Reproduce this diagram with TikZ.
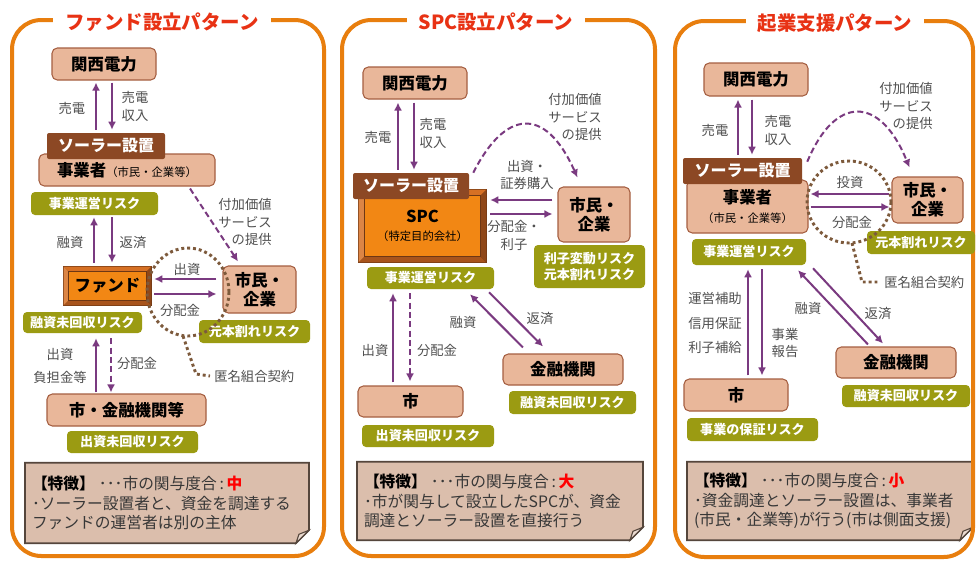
\documentclass[tikz,border=0pt]{standalone}
\usepackage{fontspec}
\setmainfont{Noto Sans CJK JP}
\usetikzlibrary{calc,arrows.meta,backgrounds}
\definecolor{borange}{RGB}{232,126,14}
\definecolor{tred}{RGB}{232,50,20}
\definecolor{salmon}{RGB}{233,183,154}
\definecolor{salmonline}{RGB}{165,95,65}
\definecolor{tabbrown}{RGB}{140,72,36}
\definecolor{olive}{RGB}{155,155,18}
\definecolor{apurple}{RGB}{122,58,128}
\definecolor{dotbrown}{RGB}{125,90,60}
\definecolor{ofill}{RGB}{242,135,20}
\definecolor{obevtop}{RGB}{214,112,36}
\definecolor{obevbot}{RGB}{168,84,28}
\definecolor{oedge}{RGB}{110,55,20}
\definecolor{notefill}{RGB}{219,190,172}
\definecolor{noteline}{RGB}{85,70,60}
\definecolor{labgray}{RGB}{80,80,80}
\definecolor{notetext}{RGB}{55,55,55}
\definecolor{hotred}{RGB}{255,0,0}
\newcommand\fntitle{\fontsize{14.6}{16}\selectfont\bfseries}
\newcommand\fnbox{\fontsize{12.3}{14.5}\selectfont\bfseries}
\newcommand\fntab{\fontsize{12}{14}\selectfont\bfseries}
\newcommand\fnrisk{\fontsize{9.8}{12.5}\selectfont\bfseries}
\newcommand\fnlab{\fontsize{10}{13}\selectfont}
\newcommand\fnnote{\fontsize{11.8}{14.5}\selectfont}
\newcommand\fnsmall{\fontsize{8.5}{10}\selectfont\mdseries}
\newcommand\obevel[2]{%
  \fill[oedge] (#1.north west) rectangle (#1.south east);
  \fill[obevtop] ($(#1.north west)+(1,1)$) -- ($(#1.north east)+(-1,1)$) -- ($(#1.north east)+(-#2,#2)$) -- ($(#1.north west)+(#2,#2)$) -- cycle;
  \fill[obevtop!85!white] ($(#1.north west)+(1,1)$) -- ($(#1.south west)+(1,-1)$) -- ($(#1.south west)+(#2,-#2)$) -- ($(#1.north west)+(#2,#2)$) -- cycle;
  \fill[obevbot] ($(#1.south west)+(1,-1)$) -- ($(#1.south east)+(-1,-1)$) -- ($(#1.south east)+(-#2,-#2)$) -- ($(#1.south west)+(#2,-#2)$) -- cycle;
  \fill[obevbot!85!black] ($(#1.north east)+(-1,1)$) -- ($(#1.south east)+(-1,-1)$) -- ($(#1.south east)+(-#2,-#2)$) -- ($(#1.north east)+(-#2,#2)$) -- cycle;
  \filldraw[fill=ofill, draw=oedge, line width=0.6pt] ($(#1.north west)+(#2,#2)$) rectangle ($(#1.south east)+(-#2,-#2)$);
}
\newcommand\notebg[1]{%
  \filldraw[fill=notefill, draw=noteline, line width=1.3pt] (#1.north west) -- (#1.north east) -- ($(#1.south east)+(0,-13)$) -- ($(#1.south east)+(-13,0)$) -- (#1.south west) -- cycle;
  \filldraw[fill=notefill!55!white, draw=noteline, line width=0.8pt] ($(#1.south east)+(0,-13)$) .. controls ($(#1.south east)+(-6,-7)$) .. ($(#1.south east)+(-13,0)$) -- ($(#1.south east)+(-10,-9)$) -- cycle;
}
\tikzset{
  px/.style 2 args={minimum width=#1*0.75pt, minimum height=#2*0.75pt},
  panel/.style={draw=borange, line width=3pt, rounded corners=22pt},
  ptitle/.style={fill=white, text=tred, font=\fntitle, inner xsep=9pt, inner ysep=2pt},
  sbox/.style={draw=salmonline, fill=salmon, line width=0.8pt, rounded corners=4pt, inner sep=0pt, font=\fnbox, align=center},
  tabbox/.style={fill=tabbrown, text=white, font=\fntab, inner sep=0pt, rounded corners=1.5pt},
  risk/.style={fill=olive, text=white, font=\fnrisk, inner sep=0pt, rounded corners=3pt, align=center},
  obox/.style={inner sep=0pt, font=\fnbox, align=center},
  lab/.style={text=labgray, font=\fnlab, inner sep=0pt, align=center},
  arr/.style={draw=apurple, line width=1.5pt, -{Latex[length=6pt,width=6pt]}},
  darr/.style={arr, dash pattern=on 4.5pt off 2.5pt},
  dots/.style={draw=dotbrown, line width=2.2pt, dash pattern=on 2.2pt off 2.2pt},
  notebox/.style={text=notetext, font=\fnnote, inner xsep=5pt, inner ysep=0pt, align=left},
}
\begin{document}
\begin{tikzpicture}[x=0.75pt,y=-0.75pt]
\begin{scope}[on background layer]
  \fill[white] (0,0) rectangle (976,561);
\end{scope}
\useasboundingbox (0,0) rectangle (976,561);

% ================= Panel 1 =================
\draw[panel] (12,20) rectangle (324,556);
\node[ptitle] (ti1) at (162,22) {ファンド設立パターン};
\node[sbox, px={104}{32}] (k1) at (104,64) {関西電力};
\node[sbox, px={176}{32}] (j1) at (127,170) {事業者{\fnsmall（市民・企業等）}};
\node[tabbox, px={118}{26}] (tab1) at (106,146) {ソーラー設置};
\node[risk, px={127}{23}] (r1a) at (94.5,203.5) {事業運営リスク};
\node[obox, px={89}{40}] (f1) at (107.5,286) {ファンド};
\begin{scope}[on background layer]\obevel{f1}{6}\end{scope}
\node[sbox, px={73}{47}] (c1) at (259.5,289.5) {市民・\\企業};
\node[risk, px={111}{23}] (r1b) at (254.5,331.5) {元本割れリスク};
\node[risk, px={119}{21}] (r1c) at (82.5,322.5) {融資未回収リスク};
\node[sbox, px={159}{32}] (m1) at (126.5,410) {市・金融機関等};
\node[risk, px={131}{22}] (r1d) at (132.5,442) {出資未回収リスク};
\node[notebox, px={280}{80}, text width=270*0.75pt] (t1) at (167,503)
  {{\bfseries\color{black}【特徴】}\hspace{3pt}･･･市の関与度合\,:\,{\bfseries\color{hotred}中}\\･ソーラー設置者と、資金を調達する\\ファンドの運営者は別の主体};
\begin{scope}[on background layer]\notebg{t1}\end{scope}

\draw[arr] ($(tab1.north)+(-10,-3)$) -- ($(k1.south)+(-8,2)$);
\draw[arr] ($(k1.south)+(8,2)$) -- ($(tab1.north)+(6,-3)$);
\draw[arr] ($(f1.north)+(-13.5,-3)$) -- ($(r1a.south)+(-0.5,2)$);
\draw[arr] ($(r1a.south)+(17.5,2)$) -- ($(f1.north)+(4.5,-3)$);
\draw[arr] ($(c1.west)+(-6,-10.5)$) -- ($(f1.east)+(2,-7)$);
\draw[arr] ($(f1.east)+(2,8)$) -- ($(c1.west)+(-6,4.5)$);
\draw[arr] ($(m1.north)+(-30.5,-1)$) -- ($(r1c.south)+(13.5,5)$);
\draw[darr] ($(r1c.south)+(28.5,5)$) -- ($(m1.north)+(-15.5,-1)$);
\draw[darr] ($(j1.south)+(63,2)$) -- ($(c1.north)+(-21.5,-4)$);

\node[lab] (l1a) at (72,108) {売電};
\node[lab] (l1b) at (135,106.5) {売電\\収入};
\node[lab] (l1c) at (70,242) {融資};
\node[lab] (l1d) at (133,242) {返済};
\node[lab] (l1e) at (187,269) {出資};
\node[lab] (l1f) at (180,310) {分配金};
\node[lab, anchor=east, align=right] (l1g) at (272,222) {付加価値\\サービス\\の提供};
\node[lab] (l1h) at (60,366) {出資\\[4pt]負担金等};
\node[lab] (l1i) at (137,363) {分配金};
\node[lab, anchor=west] (l1j) at (214,376) {匿名組合契約};
\draw[dots] (188,292) ellipse [x radius=41, y radius=44];
\coordinate (e1b) at (183,336);
\draw[dots] (e1b) -- (196,374) -- ($(l1j.west)+(-4,0)$);

% ================= Panel 2 =================
\draw[panel] (342,20) rectangle (655,556);
\node[ptitle] (ti2) at (496,22) {SPC設立パターン};
\node[sbox, px={104}{32}] (k2) at (415,83) {関西電力};
\node[obox, px={129}{74}] (spc) at (422.5,226) {SPC\\[-1pt]{\fnsmall（特定目的会社）}};
\begin{scope}[on background layer]\obevel{spc}{7}\end{scope}
\node[tabbox, px={116}{26}] (tab2) at (411,186) {ソーラー設置};
\node[sbox, px={72}{55}] (c2) at (594,214.5) {市民・\\企業};
\node[risk, px={111}{43}] (r2a) at (589.5,266.5) {利子変動リスク\\元本割れリスク};
\node[risk, px={127}{22}] (r2b) at (430.5,278) {事業運営リスク};
\node[sbox, px={120}{31}] (b2) at (563,369.5) {金融機関};
\node[risk, px={127}{23}] (r2c) at (572.5,402.5) {融資未回収リスク};
\node[sbox, px={105}{31}] (s2) at (410.5,401.5) {市};
\node[risk, px={132}{22}] (r2d) at (428,436) {出資未回収リスク};
\node[notebox, px={282}{78}, text width=272*0.75pt] (t2) at (500,501)
  {{\bfseries\color{black}【特徴】}\hspace{3pt}･･･市の関与度合\,:\,{\bfseries\color{hotred}大}\\･市が関与して設立したSPCが、資金\\調達とソーラー設置を直接行う};
\begin{scope}[on background layer]\notebg{t2}\end{scope}

\draw[arr] ($(tab2.north)+(-13,-3)$) -- ($(k2.south)+(-17,3)$);
\draw[arr] ($(k2.south)+(-1,3)$) -- ($(tab2.north)+(3,-3)$);
\draw[arr] ($(c2.west)+(-5,-14.5)$) -- ($(spc.east)+(3,-26)$);
\draw[arr] ($(spc.east)+(3,-12)$) -- ($(c2.west)+(-5,-0.5)$);
\draw[darr] ($(tab2.north east)+(4,0)$) .. controls (505,110) and (545,105) .. ($(c2.north west)+(20,-9)$);
\draw[arr] ($(s2.north)+(-17.5,-3)$) -- ($(r2b.south)+(-37.5,4)$);
\draw[darr] ($(r2b.south)+(-20.5,4)$) -- ($(s2.north)+(-0.5,-4)$);
\draw[arr] ($(b2.north)+(-40,-6)$) -- ($(r2b.south)+(39.5,5)$);
\draw[arr] ($(r2b.south)+(58.5,3)$) -- ($(b2.north)+(-20,-7)$);

\node[lab] (l2a) at (378,137) {売電};
\node[lab] (l2b) at (433,133.5) {売電\\収入};
\node[lab] (l2c) at (527,175) {出資・\\証券購入};
\node[lab] (l2d) at (514,235.5) {分配金・\\利子};
\node[lab, anchor=east, align=right] (l2e) at (602,117) {付加価値\\サービス\\の提供};
\node[lab] (l2f) at (463,322) {融資};
\node[lab] (l2g) at (540,318) {返済};
\node[lab] (l2h) at (375,350) {出資};
\node[lab] (l2i) at (437,350) {分配金};

% ================= Panel 3 =================
\draw[panel] (675,21) rectangle (973,557);
\node[ptitle] (ti3) at (835,23) {起業支援パターン};
\node[sbox, px={104}{33}] (k3) at (756,79.5) {関西電力};
\node[sbox, px={121}{53}] (j3) at (747.5,206.5) {事業者\\{\fnsmall（市民・企業等）}};
\node[tabbox, px={119}{26}] (tab3) at (742.5,171) {ソーラー設置};
\node[sbox, px={71}{46}] (c3) at (927.5,200) {市民・\\企業};
\node[risk, px={108}{23}] (r3b) at (921,242.5) {元本割れリスク};
\node[risk, px={114}{26}] (r3a) at (749,252) {事業運営リスク};
\node[sbox, px={120}{31}] (b3) at (896,362.5) {金融機関};
\node[risk, px={128}{22}] (r3c) at (906,396) {融資未回収リスク};
\node[sbox, px={104}{32}] (s3) at (736,395) {市};
\node[risk, px={131}{23}] (r3d) at (752.5,429.5) {事業の保証リスク};
\node[notebox, px={282}{78}, text width=272*0.75pt] (t3) at (830,501)
  {{\bfseries\color{black}【特徴】}\hspace{3pt}･･･市の関与度合\,:\,{\bfseries\color{hotred}小}\\･資金調達とソーラー設置は、事業者\\(市民・企業等)が行う(市は側面支援)};
\begin{scope}[on background layer]\notebg{t3}\end{scope}

\draw[arr] ($(tab3.north)+(-4.5,-3)$) -- ($(k3.south)+(-18,3)$);
\draw[arr] ($(k3.south)+(-4,3)$) -- ($(tab3.north)+(9.5,-3)$);
\draw[arr] ($(c3.west)+(-2,-6)$) -- ($(j3.east)+(2,-12.5)$);
\draw[arr] ($(j3.east)+(2,0.5)$) -- ($(c3.west)+(-2,7)$);
\draw[darr] ($(tab3.north east)+(5,4)$) .. controls (835,95) and (880,95) .. ($(c3.north west)+(18,-9)$);
\draw[arr] ($(s3.north)+(12,-3)$) -- ($(r3a.south)+(-1,4)$);
\draw[arr] ($(r3a.south)+(13,4)$) -- ($(s3.north)+(26,-3)$);
\draw[arr] ($(b3.north)+(-28,-2)$) -- ($(r3a.south)+(49,5)$);
\draw[arr] ($(r3a.south)+(64,3)$) -- ($(b3.north)+(-13,-3)$);

\node[lab] (l3a) at (715,130) {売電};
\node[lab] (l3b) at (778,130.5) {売電\\収入};
\node[lab] (l3c) at (850,182) {投資};
\node[lab] (l3d) at (852,222) {分配金};
\node[lab, anchor=east, align=right] (l3e) at (933,106) {付加価値\\サービス\\の提供};
\node[lab] (l3f) at (715,298) {運営補助};
\node[lab] (l3g) at (715,323) {信用保証};
\node[lab] (l3h) at (715,347) {利子補給};
\node[lab] (l3i) at (785,343) {事業\\報告};
\node[lab] (l3j) at (808,308) {融資};
\node[lab] (l3k) at (878,313) {返済};
\node[lab, anchor=west] (l3x) at (884,282) {匿名組合契約};
\draw[dots] (849,202) ellipse [x radius=42, y radius=41];
\coordinate (e3b) at (852,243);
\draw[dots] (e3b) -- (862,282) -- ($(l3x.west)+(-6,0)$);
\end{tikzpicture}
\end{document}
